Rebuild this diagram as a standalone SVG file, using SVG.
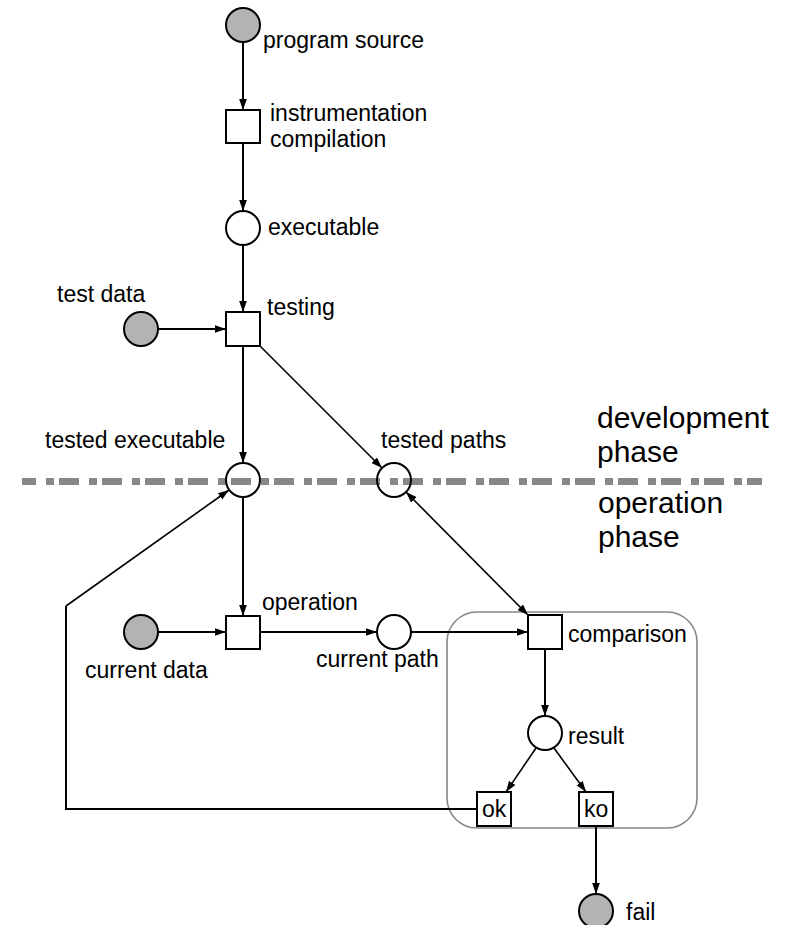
<svg xmlns="http://www.w3.org/2000/svg" width="787" height="925" viewBox="0 0 787 925">
<style>
text{font-family:"Liberation Sans",Arial,sans-serif;font-size:23px;fill:#000}
.big{font-size:30px}
.place{fill:none;stroke:#000;stroke-width:2}
.token{fill:#b3b3b3;stroke:#000;stroke-width:2}
.trans{fill:#fff;stroke:#000;stroke-width:2}
.arc{fill:none;stroke:#000;stroke-width:2}
.arc2{fill:none;stroke:#000;stroke-width:1.6}
</style>
<defs>
<marker id="ah" viewBox="0 0 10 7" refX="10" refY="3.5" markerWidth="11" markerHeight="8" markerUnits="userSpaceOnUse" orient="auto-start-reverse">
<path d="M0,0 L10,3.5 L0,7 z" fill="#000"/>
</marker>
</defs>
<rect x="0" y="0" width="787" height="925" fill="#fff"/>
<g id="phase-separator">
<line x1="22" y1="481.5" x2="762" y2="481.5" stroke="#888" stroke-width="7" stroke-dasharray="8 5 20 10" stroke-dashoffset="19"/>
<text class="big" x="597" y="428">development</text>
<text class="big" x="597" y="462">phase</text>
<text class="big" x="598" y="513">operation</text>
<text class="big" x="598" y="547">phase</text>
</g>
<g id="comparison-box">
<rect x="447" y="612" width="250" height="216" rx="30" ry="30" fill="none" stroke="#888" stroke-width="1.6"/>
</g>
<g id="connectors">
<line class="arc" x1="243" y1="42" x2="243" y2="110" marker-end="url(#ah)"/>
<line class="arc" x1="243" y1="143" x2="243" y2="211" marker-end="url(#ah)"/>
<line class="arc" x1="243" y1="245" x2="243" y2="312" marker-end="url(#ah)"/>
<line class="arc" x1="158" y1="329" x2="226" y2="329" marker-end="url(#ah)"/>
<line class="arc" x1="243" y1="346" x2="243" y2="463" marker-end="url(#ah)"/>
<line class="arc2" x1="260" y1="346" x2="382" y2="468" marker-end="url(#ah)"/>
<line class="arc" x1="243" y1="497" x2="243" y2="616" marker-end="url(#ah)"/>
<line class="arc" x1="158" y1="632" x2="226" y2="632" marker-end="url(#ah)"/>
<line class="arc" x1="260" y1="632" x2="377" y2="632" marker-end="url(#ah)"/>
<line class="arc" x1="411" y1="632" x2="528" y2="632" marker-end="url(#ah)"/>
<line class="arc2" x1="406" y1="492" x2="528" y2="615" marker-start="url(#ah)" marker-end="url(#ah)"/>
<line class="arc" x1="545" y1="649" x2="545" y2="716" marker-end="url(#ah)"/>
<line class="arc2" x1="536" y1="748" x2="506" y2="792" marker-end="url(#ah)"/>
<line class="arc2" x1="554" y1="748" x2="586" y2="792" marker-end="url(#ah)"/>
<line class="arc" x1="596" y1="826" x2="596" y2="894" marker-end="url(#ah)"/>
<polyline class="arc" points="477,809 66,809 66,606" />
<line class="arc2" x1="66" y1="606" x2="229" y2="490" marker-end="url(#ah)"/>
</g>
<g id="program-source"><circle class="token" cx="243" cy="25" r="17"/><text x="263" y="48">program source</text></g>
<g id="instrumentation-compilation"><rect class="trans" x="226" y="110" width="34" height="33"/><text x="270" y="121">instrumentation</text><text x="270" y="147">compilation</text></g>
<g id="executable"><circle class="place" cx="243" cy="228" r="17"/><text x="268" y="235">executable</text></g>
<g id="test-data"><circle class="token" cx="141" cy="329" r="17"/><text x="57" y="302">test data</text></g>
<g id="testing"><rect class="trans" x="226" y="312" width="34" height="34"/><text x="267" y="315">testing</text></g>
<g id="tested-executable"><circle class="place" cx="243" cy="480" r="17"/><text x="45" y="448">tested executable</text></g>
<g id="tested-paths"><circle class="place" cx="394" cy="480" r="17"/><text x="381" y="448">tested paths</text></g>
<g id="current-data"><circle class="token" cx="141" cy="632" r="17"/><text x="85" y="678">current data</text></g>
<g id="operation"><rect class="trans" x="226" y="616" width="34" height="33"/><text x="262" y="610">operation</text></g>
<g id="current-path"><circle class="place" cx="394" cy="632" r="17"/><text x="316" y="667">current path</text></g>
<g id="comparison"><rect class="trans" x="528" y="615" width="34" height="34"/><text x="568" y="642">comparison</text></g>
<g id="result"><circle class="place" cx="545" cy="733" r="17"/><text x="568" y="744">result</text></g>
<g id="ok"><rect class="trans" x="477" y="792" width="34" height="34"/><text x="482" y="817">ok</text></g>
<g id="ko"><rect class="trans" x="579" y="792" width="34" height="34"/><text x="584" y="817">ko</text></g>
<g id="fail"><circle class="token" cx="596" cy="911" r="17"/><text x="626" y="920">fail</text></g>
</svg>
